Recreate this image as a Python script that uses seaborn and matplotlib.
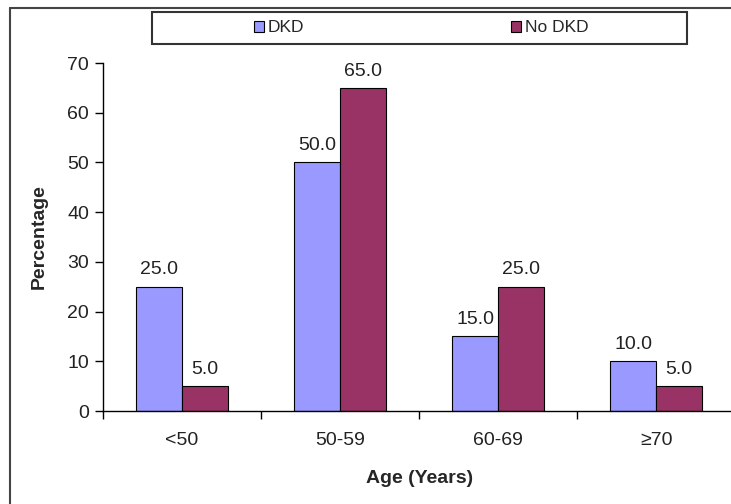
import pandas as pd
import seaborn as sns
import matplotlib.pyplot as plt
from matplotlib.lines import Line2D
from matplotlib.patches import Rectangle

age_groups = ["<50", "50-59", "60-69", "≥70"]
dkd = [25.0, 50.0, 15.0, 10.0]
no_dkd = [5.0, 65.0, 25.0, 5.0]
series_names = ["DKD", "No DKD"]
colors = ["#9999FF", "#993366"]

df = pd.DataFrame({
    "Age": age_groups * 2,
    "Group": [series_names[0]] * len(age_groups) + [series_names[1]] * len(age_groups),
    "Percentage": dkd + no_dkd,
})

sns.set_theme(style="white")
plt.rcParams["font.family"] = ["Liberation Sans", "DejaVu Sans"]

fig = plt.figure(figsize=(7.31, 5.04), dpi=100)
ax = fig.add_axes([0.1409, 0.1845, 0.865, 0.6905])

sns.barplot(data=df, x="Age", y="Percentage", hue="Group", palette=colors,
            saturation=1, width=0.58, edgecolor="black", linewidth=0.8, ax=ax, legend=False)

for cont in ax.containers:
    ax.bar_label(cont, fmt="%.1f", padding=6, fontsize=14, color="#222222")

ax.set_ylim(0, 70)
ax.set_yticks(range(0, 71, 10))
ax.set_xlim(-0.5, len(age_groups) - 0.5)
ax.set_xticks(range(len(age_groups)))
ax.set_xticklabels(age_groups)
ax.set_xticks([i - 0.5 for i in range(len(age_groups) + 1)], minor=True)
ax.tick_params(axis="x", which="major", length=0, pad=15, labelsize=14, labelcolor="#222222")
ax.tick_params(axis="x", which="minor", length=6, width=1, color="black", direction="out")
ax.tick_params(axis="y", length=6, width=1, color="black", direction="out", labelsize=14,
               labelcolor="#222222", pad=4)
ax.yaxis.set_ticks_position("left")
ax.xaxis.set_ticks_position("bottom")

for s in ["top", "right"]:
    ax.spines[s].set_visible(False)
for s in ["left", "bottom"]:
    ax.spines[s].set_color("black")
    ax.spines[s].set_linewidth(1)

ax.set_xlabel("Age (Years)", fontsize=14, fontweight="bold", labelpad=15)
ax.set_ylabel("Percentage", fontsize=14, fontweight="bold", labelpad=14)

# outer frame lines (top and left)
fig.add_artist(Line2D([10 / 731, 1.0], [1 - 8 / 504, 1 - 8 / 504], color="#444444", lw=1.5))
fig.add_artist(Line2D([10 / 731, 10 / 731], [0, 1 - 8 / 504], color="#444444", lw=1.5))

# legend box
fig.add_artist(Rectangle((152 / 731, 1 - 44 / 504), 535 / 731, 32 / 504,
                         transform=fig.transFigure, fill=False, edgecolor="#333333", lw=1.5))
handles = [Rectangle((0, 0), 1, 1, facecolor=c, edgecolor="black", lw=0.8) for c in colors]
fig.legend(handles, series_names, loc="center", bbox_to_anchor=(421 / 731, 1 - 28 / 504),
           ncol=2, frameon=False, fontsize=12.5, handlelength=0.6, handleheight=0.6,
           handletextpad=0.2, columnspacing=11.9)

fig.savefig("out.png", dpi=100)
